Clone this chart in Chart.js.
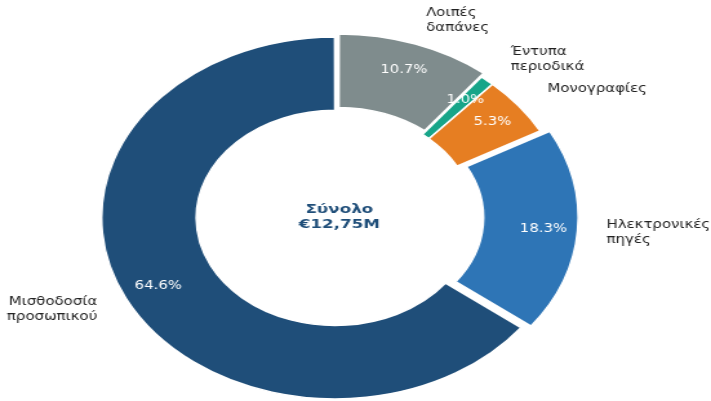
<!DOCTYPE html>
<html>
<head>
<meta charset="utf-8">
<script src="https://cdn.jsdelivr.net/npm/chart.js@4/dist/chart.umd.min.js"></script>
<style>
  html, body { margin: 0; padding: 0; background: #ffffff; overflow: hidden; }
  #wrap { position: absolute; left: 0; top: 0; width: 551px; height: 401px;
          transform: scaleX(1.2904); transform-origin: 0 0; }
</style>
</head>
<body>
<div id="wrap"><canvas id="c"></canvas></div>
<script>
const categories = [
  ['Λοιπές', 'δαπάνες'],
  ['Έντυπα', 'περιοδικά'],
  ['Μονογραφίες'],
  ['Ηλεκτρονικές', 'πηγές'],
  ['Μισθοδοσία', 'προσωπικού']
];
const shares = [10.7, 1.0, 5.3, 18.3, 64.6];
const colors = ['#7f8c8d', '#17a589', '#e67e22', '#2e75b6', '#1f4e79'];
const explode = [12, 0, 0, 28, 8];
const centerLines = ['Σύνολο', '€12,75M'];

const labelPlugin = {
  id: 'pieLabels',
  afterDatasetsDraw(chart) {
    const ctx = chart.ctx;
    const meta = chart.getDatasetMeta(0);
    ctx.save();
    meta.data.forEach((arc, i) => {
      const p = arc.getProps(['x', 'y', 'startAngle', 'endAngle', 'outerRadius', 'innerRadius'], true);
      const mid = (p.startAngle + p.endAngle) / 2;
      const t = (explode[i] || 0) / 4;
      const c = Math.cos(mid), s = Math.sin(mid);
      // percentage inside
      const dp = t + p.outerRadius * 0.855;
      ctx.fillStyle = '#ffffff';
      ctx.font = '11.5px "DejaVu Sans"';
      ctx.textAlign = 'center';
      ctx.textBaseline = 'middle';
      ctx.fillText(shares[i].toFixed(1) + '%', p.x + c * dp, p.y + s * dp);
      // outer label
      const dl = t * 0.25 + p.outerRadius * 1.158;
      const lx = p.x + c * dl, ly = p.y + s * dl;
      ctx.fillStyle = '#222222';
      ctx.font = '11.6px "DejaVu Sans"';
      ctx.textAlign = c >= 0 ? 'left' : 'right';
      const lines = categories[i];
      const lh = 15;
      lines.forEach((ln, k) => {
        ctx.fillText(ln, lx, ly + (k - (lines.length - 1) / 2) * lh);
      });
    });
    // center text
    const a0 = meta.data[0];
    ctx.fillStyle = '#1f4e79';
    ctx.font = 'bold 13px "DejaVu Sans"';
    ctx.textAlign = 'center';
    centerLines.forEach((ln, k) => {
      ctx.fillText(ln, a0.x + 1.5, a0.y + (k - 0.5) * 15);
    });
    ctx.restore();
  }
};

new Chart(document.getElementById('c'), {
  type: 'doughnut',
  data: {
    labels: categories.map(l => l.join(' ')),
    datasets: [{
      data: shares,
      backgroundColor: colors,
      borderColor: '#ffffff',
      borderWidth: 1.5,
      offset: explode,
      hoverOffset: 0,
      radius: 179,
      cutout: '59%',
      clip: false
    }]
  },
  options: {
    responsive: true,
    maintainAspectRatio: false,
    animation: false,
    events: [],
    layout: { padding: { top: 33, right: 28, left: 0, bottom: 0 } },
    plugins: { legend: { display: false }, tooltip: { enabled: false } }
  },
  plugins: [labelPlugin]
});
</script>
</body>
</html>
